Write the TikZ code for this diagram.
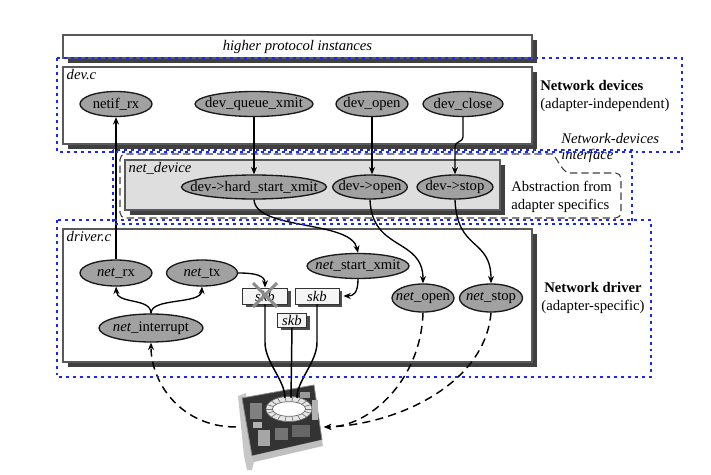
\documentclass[tikz,border=0pt]{standalone}
\usepackage{fontspec}
\setmainfont{Liberation Serif}
\usetikzlibrary{shapes.geometric,arrows.meta,calc,shadows}
\definecolor{dotblue}{RGB}{25,40,245}
\newcommand{\ftxt}[1]{\makebox[0pt]{#1}}
\begin{document}
\begin{tikzpicture}[x=0.75pt,y=-0.75pt,
  font=\fontsize{11}{13}\selectfont,
  fn/.style={ellipse, draw=black!90, line width=1pt, fill=black!37, inner sep=0pt, minimum height=18.75pt},
  bigbox/.style={draw=black!65, line width=0.8pt, fill=white, inner sep=0pt,
     drop shadow={shadow xshift=3.5pt, shadow yshift=-3.5pt, fill=black!75, opacity=1}},
  skbbox/.style={draw=black!80, line width=0.6pt, fill=black!4, inner sep=0pt, font=\fontsize{11}{13}\selectfont\itshape,
     drop shadow={shadow xshift=2.5pt, shadow yshift=-2.5pt, fill=black!70, opacity=1}},
  lbl/.style={font=\fontsize{11}{13}\selectfont\itshape, anchor=north west, inner sep=0pt},
  arr/.style={-{Stealth[length=5.5pt,width=4.5pt]}, line width=1pt},
  darr/.style={arr, dash pattern=on 6pt off 4pt, line width=1.1pt},
  plain/.style={line width=1.1pt},
  bluebox/.style={draw=dotblue, line width=2.2pt, dash pattern=on 2.2pt off 3pt},
  dbox/.style={draw=black!75, line width=0.8pt, dash pattern=on 5.5pt off 3pt, rounded corners=4pt}
]
\useasboundingbox (0,0) rectangle (711,475);

% dashed callout (abstraction / interface)
\draw[dbox] (553,154) -- (120,154) -- (120,218) -- (621,218) -- (621,173) -- (575,173) to[out=180,in=-55] (553,154);

% big boxes
\node[bigbox, minimum width=351.75pt, minimum height=17.25pt] (higher) at (297.5,46.5) {\itshape higher protocol instances};
\node[bigbox, minimum width=351.75pt, minimum height=57.75pt] (devc) at (297.5,105.5) {};
\node[bigbox, fill=black!13, minimum width=281.25pt, minimum height=37.5pt] (netdev) at (312.5,185) {};
\node[bigbox, minimum width=351.75pt, minimum height=99.75pt] (driverc) at (297.5,295.5) {};

\node[lbl] (devcl) at ($(devc.north west)+(4,3)$) {dev.c};
\node[lbl] (netdevl) at ($(netdev.north west)+(4,3)$) {net\_device};
\node[lbl] (drivercl) at ($(driverc.north west)+(4,3)$) {driver.c};

% side texts
\node[anchor=west, align=left, inner sep=0pt] (nd) at (540,96) {\textbf{Network devices}\\(adapter-independent)};
\node[anchor=west, align=left, inner sep=0pt, font=\fontsize{11}{12.5}\selectfont\itshape] (ndi) at (561,148) {Network-devices\\interface};
\node[anchor=west, align=left, inner sep=0pt] (abs) at (511,197) {Abstraction from\\adapter specifics};
\node[align=center, inner sep=0pt] (ndr) at (593,298) {\textbf{Network driver}\\(adapter-specific)};

% dev.c functions
\node[fn, minimum width=54pt] (netifrx) at (116,104) {\ftxt{netif\_rx}};
\node[fn, minimum width=88.5pt] (dqx) at (254,104) {\ftxt{dev\_queue\_xmit}};
\node[fn, minimum width=54pt] (dopen) at (372,104) {\ftxt{dev\_open}};
\node[fn, minimum width=60pt] (dclose) at (463,104) {\ftxt{dev\_close}};

% net_device functions
\node[fn, minimum width=108.75pt, minimum height=18pt] (hsx) at (254,187) {\ftxt{dev->hard\_start\_xmit}};
\node[fn, minimum width=56pt, minimum height=18pt] (ndopen) at (370,187) {\ftxt{dev->open}};
\node[fn, minimum width=57pt, minimum height=18pt] (ndstop) at (455,187) {\ftxt{dev->stop}};

% driver functions
\node[fn, minimum width=54pt, minimum height=19.5pt] (netrx) at (116,273) {\ftxt{\textit{net}\_rx}};
\node[fn, minimum width=53.25pt, minimum height=19.5pt] (nettx) at (202,273) {\ftxt{\textit{net}\_tx}};
\node[fn, minimum width=78pt, minimum height=21pt] (netint) at (151,328) {\ftxt{\textit{net}\_interrupt}};
\node[fn, minimum width=76.5pt, minimum height=18.75pt] (nsx) at (358,266) {\ftxt{\textit{net}\_start\_xmit}};
\node[fn, minimum width=46.5pt, minimum height=21pt] (nopen) at (423,298) {\ftxt{\textit{net}\_open}};
\node[fn, minimum width=47.25pt, minimum height=21pt] (nstop) at (491,298) {\ftxt{\textit{net}\_stop}};

% skb boxes
\node[skbbox, minimum width=34pt, minimum height=12pt] (skb1) at (265,296) {skb};
\node[skbbox, minimum width=33pt, minimum height=12pt] (skb2) at (317,296) {skb};
\node[skbbox, minimum width=22pt, minimum height=10.5pt] (skb3) at (292,320) {skb};
\draw[black!45, line width=2.2pt] ($(skb1)+(-12,-13)$) -- ($(skb1)+(12,11)$)
                                  ($(skb1)+(12,-13)$) -- ($(skb1)+(-12,11)$);

% network card
\fill[black!22] (238,396) -- (246,393) -- (255,458) -- (252,470) -- (247,470) -- (244,456) -- cycle;
\fill[black!80] (242,398) -- (314,385) -- (322,440) -- (252,456) -- cycle;
\draw[black!45, line width=0.6pt] (242,398) -- (314,385) -- (322,440) -- (252,456) -- cycle;
\fill[black!50] (250,403) rectangle (262,419);
\fill[black!30] (253,422) rectangle (262,428);
\fill[black!35] (258,430) rectangle (270,446);
\fill[black!55] (275,428) rectangle (288,440);
\fill[black!60] (292,425) rectangle (310,437);
\fill[black!40] (300,392) rectangle (310,398);
\fill[black!30] (312,400) rectangle (318,420);
\fill[black!25] (252,456) -- (322,440) -- (323,446) -- (254,462) -- cycle;
\filldraw[fill=black!10, draw=black!55, line width=0.5pt] (289,409) ellipse [x radius=17.25pt, y radius=9.4pt];
\foreach \a in {0,20,...,340}
  \draw[black!55, line width=0.5pt] ($(289,409)+({23*cos(\a)},{12.5*sin(\a)})$) -- ($(289,409)+({16.7*cos(\a)},{7.3*sin(\a)})$);
\filldraw[fill=white, draw=black!60, line width=0.5pt] (289,409) ellipse [x radius=12.5pt, y radius=5.5pt];
\coordinate (p1) at (285,398);
\coordinate (p2) at (291,398);
\coordinate (p3) at (297,398);
\coordinate (cW) at (236,427);
\coordinate (cE) at (324,427);

% connectors
\draw[arr] (netrx.north) -- (netifrx.south);
\draw[arr] (dqx.south) -- (hsx.north);
\draw[arr] (dopen.south) -- (dopen.south |- ndopen.north);
\draw[arr] (dclose.south) -- ++(0,20) to[out=-90,in=90] ($(ndstop.north)+(0,-28)$) -- (ndstop.north);
\draw[arr] (hsx.south) .. controls +(2,31) and +(-7,-33) .. (nsx.north);
\draw[arr] (ndopen.south) .. controls +(2,52) and +(0,-46) .. (nopen.north);
\draw[arr] (ndstop.south) .. controls +(2,52) and +(0,-46) .. (nstop.north);
\draw[arr] (netint.north) .. controls +(0,-16) and +(1,18) .. (netrx.south);
\draw[arr] (netint.north) .. controls +(0,-16) and +(-1,18) .. (nettx.south);
\draw[arr] (nettx.east) .. controls +(18,0) and +(0,-12) .. (skb1.north);
\draw[arr] (nsx.south) .. controls +(0,14) and +(10,0) .. ($(skb2.east)+(4,0)$);

\draw[plain] (skb1.south) -- ++(0,38) .. controls +(0,20) and +(0,-18) .. (p1);
\draw[plain] (skb3.south) -- (p2);
\draw[plain] (skb2.south) -- ++(0,38) .. controls +(0,20) and +(0,-18) .. (p3);

\draw[darr] (nopen.south) .. controls +(-2,68) and +(45,0) .. (cE);
\draw[darr] (nstop.south) .. controls +(-6,73) and +(70,-2) .. (cE);
\draw[darr] (cW) .. controls +(-55,0) and +(0,40) .. (netint.south);

% blue dotted groupings
\draw[bluebox] (57,58) rectangle (682,152);
\draw[bluebox] (113,150) rectangle (632,224);
\draw[bluebox] (57,220) rectangle (651,377);
\end{tikzpicture}
\end{document}
